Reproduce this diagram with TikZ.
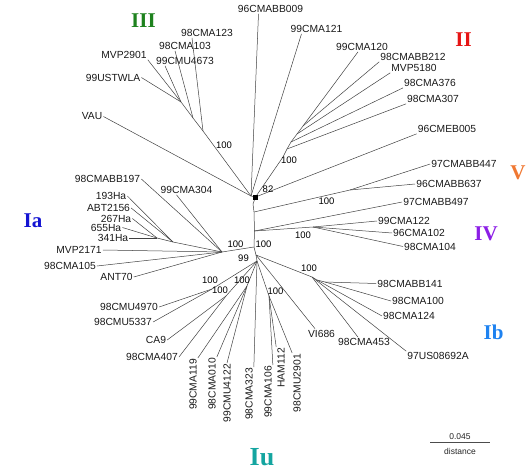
\documentclass[tikz,border=0pt]{standalone}
\usepackage{fontspec}
\setmainfont{Liberation Sans}
\newfontfamily\romfont{Liberation Serif}
\usetikzlibrary{calc}
\definecolor{cIII}{RGB}{30,130,30}
\definecolor{cII}{RGB}{230,20,20}
\definecolor{cV}{RGB}{240,120,50}
\definecolor{cIV}{RGB}{140,30,230}
\definecolor{cIa}{RGB}{20,20,210}
\definecolor{cIb}{RGB}{30,130,240}
\definecolor{cIu}{RGB}{20,165,160}
\begin{document}
\begin{tikzpicture}[x=1pt,y=-1pt,
  br/.style={draw=black!75, line width=0.5pt},
  leaf/.style={font=\fontsize{10.3}{12}\selectfont, inner sep=1pt, text=black!90},
  vleaf/.style={leaf, rotate=90, anchor=east},
  boot/.style={font=\fontsize{9.5}{11}\selectfont, inner sep=0pt},
  grp/.style={font=\romfont\bfseries\fontsize{21}{24}\selectfont, inner sep=0pt},
  small/.style={font=\fontsize{8.5}{10}\selectfont, inner sep=0pt, text=black!85}]
\useasboundingbox (0,0) rectangle (529,473);
% internal nodes
\coordinate (T) at (251,196);
\coordinate (S) at (255.5,197);
\coordinate (bb1) at (253,204);
\coordinate (V0) at (254,212);
\coordinate (W) at (254.5,231);
\coordinate (M) at (254,247);
\coordinate (L) at (256,255);
\coordinate (L2) at (257,261);
\coordinate (C3) at (203,131);
\coordinate (B3) at (193,118);
\coordinate (A3) at (181,102);
\coordinate (NII) at (283,157);
\coordinate (n1) at (287,149);
\coordinate (n2) at (291,142);
\coordinate (n3) at (297,134);
\coordinate (n4) at (303,126);
\coordinate (Vn) at (350,190);
\coordinate (IVn) at (313,227);
\coordinate (Ian) at (222,252);
\coordinate (h2) at (173,242);
\coordinate (h1) at (157,238);
\coordinate (Ibn) at (312,277);
\coordinate (i1) at (317,280);
\coordinate (i2) at (325,282);
\coordinate (G1) at (212,289);
\coordinate (G2) at (226,296);
\coordinate (G3) at (247,286);
\coordinate (G4) at (269,296);
% leaf labels
\node[leaf] (l009) at (270.5,9) {96CMABB009};
\node[leaf] (l121) at (316.5,29) {99CMA121};
\node[leaf] (lA123) at (207,33) {98CMA123};
\node[leaf] (lA103) at (185,46) {98CMA103};
\node[leaf] (l4673) at (185,61) {99CMU4673};
\node[leaf] (lMVP2901) at (124,55) {MVP2901};
\node[leaf] (lUSTWLA) at (113,77.5) {99USTWLA};
\node[leaf] (lVAU) at (92,116.5) {VAU};
\node[leaf] (l120) at (362,47) {99CMA120};
\node[leaf] (l212) at (413,57) {98CMABB212};
\node[leaf] (l5180) at (414,68) {MVP5180};
\node[leaf] (l376) at (430,83) {98CMA376};
\node[leaf] (l307) at (433,99) {98CMA307};
\node[leaf] (lEB005) at (447,129) {96CMEB005};
\node[leaf] (l447) at (464,164) {97CMABB447};
\node[leaf] (l637) at (449,184) {96CMABB637};
\node[leaf] (l497) at (436,202) {97CMABB497};
\node[leaf] (l122) at (404,221) {99CMA122};
\node[leaf] (l102) at (419,233) {96CMA102};
\node[leaf] (l104) at (430,246.5) {98CMA104};
\node[leaf] (l141) at (410,283.5) {98CMABB141};
\node[leaf] (l100) at (418,301) {98CMA100};
\node[leaf] (l124) at (409,316) {98CMA124};
\node[leaf] (l453) at (364,342) {98CMA453};
\node[leaf] (l692) at (438,356) {97US08692A};
\node[leaf] (lVI) at (321.5,333.5) {VI686};
\node[vleaf] (l119) at (193,358) {99CMA119};
\node[vleaf] (l010) at (212,357) {98CMA010};
\node[vleaf] (l4122) at (227,363) {99CMU4122};
\node[vleaf] (l323) at (249,367) {98CMA323};
\node[vleaf] (l106) at (268,365) {99CMA106};
\node[vleaf] (lHAM) at (281,347) {HAM112};
\node[vleaf] (l2901) at (297,353) {98CMU2901};
\node[leaf] (l4970) at (129,307) {98CMU4970};
\node[leaf] (l5337) at (123,322) {98CMU5337};
\node[leaf] (lCA9) at (156,340) {CA9};
\node[leaf] (l407) at (152,357) {98CMA407};
\node[leaf] (l197) at (107.5,179) {98CMABB197};
\node[leaf] (l304) at (186.5,190) {99CMA304};
\node[leaf] (l193) at (111,196) {193Ha};
\node[leaf] (lABT) at (108.5,208) {ABT2156};
\node[leaf] (l267) at (116,218.5) {267Ha};
\node[leaf] (l655) at (106,227.5) {655Ha};
\node[leaf] (l341) at (113,238) {341Ha};
\node[leaf] (l2171) at (79,250) {MVP2171};
\node[leaf] (l105) at (70,266) {98CMA105};
\node[leaf] (lANT) at (116.5,277) {ANT70};
% branches: top
\draw[br] (T) -- ($(l009.south)+(-12,0)$);
\draw[br] (T) -- ($(l121.south)+(-15,0)$);
\draw[br] (T) -- (lVAU.east);
\draw[br] (T) -- (C3) -- (B3) -- (A3);
\draw[br] (C3) -- ($(lA123.south)+(-15,0)$);
\draw[br] (B3) -- ($(lA103.south)+(-10,0)$);
\draw[br] (A3) -- ($(l4673.south)+(-20,0)$);
\draw[br] (A3) -- (lMVP2901.south east);
\draw[br] (A3) -- (lUSTWLA.east);
% backbone
\draw[br] (T) -- (S) -- (bb1) -- (V0) -- (W) -- (M) -- (L) -- (L2);
% II
\draw[br] (S) -- (NII) -- (n1) -- (n2) -- (n3) -- (n4) -- ($(l120.south)+(-4,0)$);
\draw[br] (n4) -- (l212.south west);
\draw[br] (n3) -- (l5180.south west);
\draw[br] (n2) -- (l376.south west);
\draw[br] (n1) -- (l307.south west);
\draw[br] (S) -- (lEB005.south west);
% V and IV
\draw[br] (V0) -- (Vn) -- (l447.west);
\draw[br] (Vn) -- (l637.west);
\draw[br] (W) -- (l497.west);
\draw[br] (W) -- (IVn);
\draw[br] (IVn) -- (l122.west);
\draw[br] (IVn) -- (l102.west);
\draw[br] (IVn) -- (l104.west);
% Ia
\draw[br] (M) -- (Ian);
\draw[br] (Ian) -- (l197.east);
\draw[br] (Ian) -- ($(l304.south)+(-10,0)$);
\draw[br] (Ian) -- (h2) -- (h1);
\draw[br] (h2) -- (l193.east);
\draw[br] (h2) -- (lABT.east);
\draw[br] (h1) -- (l267.east);
\draw[br] (h1) -- (l655.east);
\draw[br] (h1) -- (l341.east);
\draw[br] (Ian) -- (l2171.east);
\draw[br] (Ian) -- (l105.east);
\draw[br] (Ian) -- (lANT.east);
% Ib
\draw[br] (L) -- (Ibn) -- (i1) -- (i2) -- (l141.west);
\draw[br] (i2) -- (l100.west);
\draw[br] (i1) -- (l124.west);
\draw[br] (Ibn) -- ($(l453.north)+(-6,0)$);
\draw[br] (Ibn) -- (l692.north west);
\draw[br] (L) -- ($(lVI.north)+(-6.5,0)$);
% Iu
\draw[br] (L2) -- (G1);
\draw[br] (G1) -- (l4970.east);
\draw[br] (G1) -- (l5337.east);
\draw[br] (L2) -- (G2);
\draw[br] (G2) -- (lCA9.east);
\draw[br] (G2) -- (l407.east);
\draw[br] (L2) -- (G3);
\draw[br] (G3) -- (l119.south east);
\draw[br] (G3) -- (l010.south east);
\draw[br] (G3) -- (l4122.east);
\draw[br] (L2) -- (l323.south east);
\draw[br] (L2) -- (G4);
\draw[br] (G4) -- (l106.south east);
\draw[br] (G4) -- (lHAM.north east);
\draw[br] (G4) -- (l2901.north east);
% marker
\node[fill=black, minimum size=5pt, inner sep=0pt] (sq) at (S) {};
% bootstrap values
\node[boot] (b1) at (224,145) {100};
\node[boot] (b2) at (289,160.5) {100};
\node[boot] (b3) at (268,189) {82};
\node[boot] (b4) at (326.5,201) {100};
\node[boot] (b5) at (303,235) {100};
\node[boot] (b6) at (235.5,244.5) {100};
\node[boot] (b7) at (263.5,244.5) {100};
\node[boot] (b8) at (243.5,258.5) {99};
\node[boot] (b9) at (210,280) {100};
\node[boot] (b10) at (220,290.5) {100};
\node[boot] (b11) at (242,280) {100};
\node[boot] (b12) at (275.5,291) {100};
\node[boot] (b13) at (309,268) {100};
% group labels
\node[grp, text=cIII] (gIII) at (143.5,21) {III};
\node[grp, text=cII] (gII) at (463.5,40) {II};
\node[grp, text=cV] (gV) at (518,172.5) {V};
\node[grp, text=cIV] (gIV) at (486,234) {IV};
\node[grp, text=cIa] (gIa) at (33,221) {Ia};
\node[grp, text=cIb] (gIb) at (493.5,332.5) {Ib};
\node[grp, text=cIu, font=\romfont\bfseries\fontsize{26}{30}\selectfont] (gIu) at (262,457) {Iu};
% scale bar
\coordinate (sb1) at (430,442.5);
\coordinate (sb2) at (490,442.5);
\draw[draw=black!70, line width=0.9pt] (sb1) -- (sb2);
\node[small] (sbv) at (460,437) {0.045};
\node[small] (sbd) at (460,451) {distance};
\end{tikzpicture}
\end{document}
